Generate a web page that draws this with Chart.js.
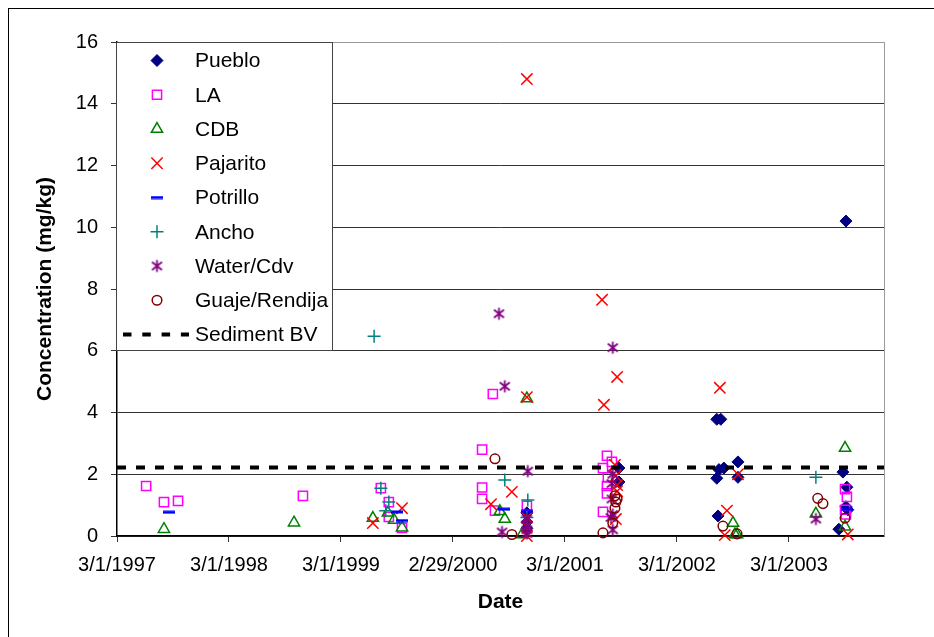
<!DOCTYPE html>
<html><head><meta charset="utf-8">
<script src="https://cdn.jsdelivr.net/npm/chart.js@4.4.1/dist/chart.umd.min.js"></script>
<style>
html,body{margin:0;padding:0;background:#fff;overflow:hidden;}
#wrap{position:relative;width:934px;height:637px;overflow:hidden;}
#frame{position:absolute;left:8px;top:8px;width:1000px;height:1000px;border:1px solid #000;pointer-events:none;}
canvas{position:absolute;left:0;top:0;}
</style></head><body>
<div id="wrap"><canvas id="c" width="934" height="637"></canvas><div id="frame"></div></div>
<script>
// x = days since 3/1/1997, y = concentration (mg/kg)
const tickDays = [0, 365, 730, 1095, 1460, 1825, 2190];
const tickLabels = ['3/1/1997','3/1/1998','3/1/1999','2/29/2000','3/1/2001','3/1/2002','3/1/2003'];
const yTicks = [0,2,4,6,8,10,12,14,16];

const puebloDays = [1336,1336,1336,1636,1636,1955,1968,1962,1978,1955,2024,2024,1959,2376,2366,2379,2376,2382,2353];
const puebloVals = [0.75,0.45,0.25,2.2,1.75,3.78,3.78,2.15,2.2,1.87,2.4,1.9,0.65,10.2,2.07,1.58,0.95,0.85,0.22];

const laDays = [95,153,199,606,860,886,886,929,1190,1190,1190,1225,1232,1336,1597,1613,1584,1600,1597,1597,1584,2373,2379,2373,2376];
const laVals = [1.62,1.1,1.14,1.3,1.55,1.1,0.62,0.26,2.8,1.57,1.2,4.6,0.82,0.98,2.6,2.4,2.2,1.9,1.62,1.38,0.78,1.52,1.27,0.85,0.7];

const cdbDays = [153,577,834,883,903,929,1248,1264,1320,1336,2008,2014,2021,2373,2278,2373];
const cdbVals = [0.22,0.43,0.58,0.75,0.52,0.27,0.8,0.55,0.05,4.45,0.42,0.05,0.05,2.85,0.72,0.3];

const pajaritoDays = [834,929,1219,1287,1336,1336,1336,1336,1336,1581,1587,1630,1623,1626,1630,1630,1626,1965,2024,1988,1981,2382];
const pajaritoVals = [0.42,0.9,1.03,1.43,14.8,4.5,0.6,0.3,0.0,7.65,4.25,5.15,2.3,1.95,1.65,1.45,0.55,4.8,2.0,0.82,0.03,0.05];

const potrilloDays = [169,913,929,1261,1336,2379];
const potrilloVals = [0.77,0.78,0.5,0.87,0.8,0.87];

const anchoDays = [838,860,886,876,1264,1339,1336,2278];
const anchoVals = [6.47,1.55,1.1,0.82,1.81,1.17,0.6,1.9];

const waterDays = [1245,1264,1339,1255,1336,1336,1336,1336,1616,1616,1613,1613,1616,1610,1616,2278];
const waterVals = [7.2,4.85,2.1,0.13,0.55,0.35,0.2,0.08,6.1,2.0,1.7,1.2,0.7,0.6,0.2,0.55];

const guajeDays = [1232,1287,1584,1623,1626,1630,1623,1616,1975,2021,2284,2301,2373];
const guajeVals = [2.5,0.05,0.1,1.3,1.1,1.2,0.9,0.42,0.32,0.07,1.22,1.05,0.58];

const sedimentBV = 2.22;
const xMin = 0, xMax = 2500;

const FONT = '"Liberation Sans", Arial, sans-serif';

function pts(d, v){ return d.map((x,i)=>({x:x, y:v[i]})); }

// asterisk marker (x with vertical bar)
function makeAsterisk(color){
  const c = document.createElement('canvas'); c.width = 15; c.height = 15;
  const g = c.getContext('2d'); g.strokeStyle = color; g.lineWidth = 1.8;
  g.beginPath();
  g.moveTo(2.5,3.5); g.lineTo(12.5,11.5);
  g.moveTo(12.5,3.5); g.lineTo(2.5,11.5);
  g.moveTo(7.5,1.5); g.lineTo(7.5,13.5);
  g.stroke();
  return c;
}
// centred dash marker
function makeDash(color){
  const c = document.createElement('canvas'); c.width = 12; c.height = 4;
  const g = c.getContext('2d'); g.fillStyle = color; g.fillRect(0,0.5,12,3);
  return c;
}
const asterisk = makeAsterisk('#800080');
const dash = makeDash('#0000FF');

const T = 'rgba(0,0,0,0)';
const datasets = [
  {label:'Pueblo', data:pts(puebloDays,puebloVals), pointStyle:'rectRot', pointRadius:6, borderWidth:1, borderColor:'#000080', backgroundColor:'#000080'},
  {label:'LA', data:pts(laDays,laVals), pointStyle:'rect', pointRadius:6.5, borderWidth:1.5, borderColor:'#FF00FF', backgroundColor:T},
  {label:'CDB', data:pts(cdbDays,cdbVals), pointStyle:'triangle', pointRadius:6.5, borderWidth:1.5, borderColor:'#008000', backgroundColor:T},
  {label:'Pajarito', data:pts(pajaritoDays,pajaritoVals), pointStyle:'crossRot', pointRadius:8, borderWidth:1.5, borderColor:'#FF0000', backgroundColor:T},
  {label:'Potrillo', data:pts(potrilloDays,potrilloVals), pointStyle:dash, pointRadius:6, borderWidth:1, borderColor:'#0000FF', backgroundColor:'#0000FF'},
  {label:'Ancho', data:pts(anchoDays,anchoVals), pointStyle:'cross', pointRadius:6.5, borderWidth:1.5, borderColor:'#008080', backgroundColor:T},
  {label:'Water/Cdv', data:pts(waterDays,waterVals), pointStyle:asterisk, pointRadius:7, borderWidth:1.5, borderColor:'#800080', backgroundColor:T},
  {label:'Guaje/Rendija', data:pts(guajeDays,guajeVals), pointStyle:'circle', pointRadius:4.8, borderWidth:1.5, borderColor:'#800000', backgroundColor:T},
  {label:'Sediment BV', type:'line', data:[{x:xMin,y:sedimentBV},{x:xMax,y:sedimentBV}], borderColor:'#000', borderWidth:4, borderDash:[9,10], pointRadius:0, fill:false}
];
datasets.forEach((d,i)=>{ d.order = -i; d.clip = false; if(!d.type){ d.pointHoverRadius = d.pointRadius; } });

const legendPlugin = {
  id:'boxLegend',
  afterDraw(chart){
    const ctx = chart.ctx, a = chart.chartArea;
    ctx.save();
    // right border of plot area
    ctx.strokeStyle = '#9a9a9a'; ctx.lineWidth = 1;
    ctx.beginPath(); ctx.moveTo(Math.round(a.right)+0.5, a.top); ctx.lineTo(Math.round(a.right)+0.5, a.bottom); ctx.stroke();
    const x0 = Math.round(a.left) - 1, y0 = Math.round(a.top), w = 216, h = 308;
    ctx.fillStyle = '#fff'; ctx.fillRect(x0, y0, w, h);
    ctx.strokeStyle = '#444'; ctx.lineWidth = 1; ctx.strokeRect(x0+0.5, y0+0.5, w, h);
    chart.data.datasets.forEach((ds,i)=>{
      const cy = y0 + 18.5 + i*34.25;
      if (ds.type === 'line') {
        ctx.strokeStyle = '#000'; ctx.lineWidth = 4; ctx.setLineDash([8.5,10.8]);
        ctx.beginPath(); ctx.moveTo(x0+7, cy); ctx.lineTo(x0+73, cy); ctx.stroke();
        ctx.setLineDash([]);
      } else {
        ctx.strokeStyle = ds.borderColor; ctx.fillStyle = ds.backgroundColor; ctx.lineWidth = ds.borderWidth;
        Chart.helpers.drawPoint(ctx, {pointStyle:ds.pointStyle, radius:ds.pointRadius, rotation:0, borderWidth:ds.borderWidth}, x0+41, cy);
      }
      ctx.fillStyle = '#000'; ctx.font = '21px ' + FONT; ctx.textBaseline = 'middle'; ctx.textAlign = 'left';
      ctx.fillText(ds.label, x0+79, cy+1);
    });
    ctx.restore();
  }
};

new Chart(document.getElementById('c'), {
  type:'scatter',
  data:{datasets:datasets},
  options:{
    responsive:false, animation:false, devicePixelRatio:1,
    layout:{padding:{left:0, top:42, right:50, bottom:0}},
    plugins:{legend:{display:false}, tooltip:{enabled:false}},
    scales:{
      x:{
        type:'linear', min:xMin, max:xMax,
        afterBuildTicks(axis){ axis.ticks = tickDays.map(v=>({value:v})); },
        afterFit(s){ s.height = 101; },
        ticks:{ autoSkip:false, maxRotation:0, padding:11, color:'#000', font:{family:FONT, size:20},
          callback:(v,i)=>tickLabels[i] },
        grid:{ display:true, drawOnChartArea:false, drawTicks:true, tickLength:6, tickColor:'#333' },
        border:{ display:true, color:'#000', width:1.5 },
        title:{ display:true, text:'Date', color:'#000', font:{family:FONT, size:21, weight:'bold'}, padding:{top:0,bottom:22} }
      },
      y:{
        min:0, max:16,
        afterBuildTicks(axis){ axis.ticks = yTicks.map(v=>({value:v})); },
        afterFit(s){ s.width = 117; },
        ticks:{ padding:13, color:'#000', font:{family:FONT, size:20}, callback:(v)=>String(v) },
        grid:{ color:(c)=> (c.tick && c.tick.value===16) ? '#9a9a9a' : '#333', lineWidth:1, tickLength:6, tickColor:'#333' },
        border:{ display:true, color:'#000', width:1.5 },
        title:{ display:true, text:'Concentration (mg/kg)', color:'#000', font:{family:FONT, size:21, weight:'bold'}, padding:{top:33,bottom:0} }
      }
    }
  },
  plugins:[legendPlugin]
});
</script>
</body></html>
